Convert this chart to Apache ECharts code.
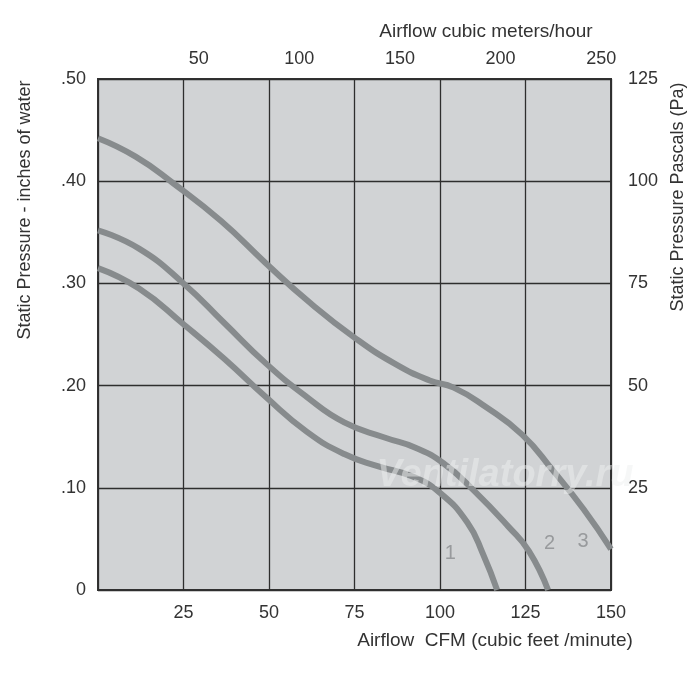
<!DOCTYPE html>
<html>
<head>
<meta charset="utf-8">
<script src="https://cdn.jsdelivr.net/npm/echarts@6/dist/echarts.min.js"></script>
<style>html,body{margin:0;padding:0;background:#fff}#c{width:700px;height:673px}</style>
</head>
<body>
<div id="c"></div>
<script>
// Axis ticks
const cfmTicks = [0, 25, 50, 75, 100, 125, 150];
const m3hTicks = [50, 100, 150, 200, 250];
const inchTicks = [0, 0.1, 0.2, 0.3, 0.4, 0.5];
const paTicks = [25, 50, 75, 100, 125];

// Fan curves: [CFM, inches of water]
const curve1 = [[0,.315],[12,.295],[25,.260],[37,.226],[49,.189],[61,.155],[72,.133],[82,.121],[92,.111],[100,.095],[108,.066],[112.6,.035],[116.7,0]];
const curve2 = [[0,.352],[12,.334],[25,.300],[37,.261],[49,.222],[61,.189],[72,.164],[84,.149],[93,.139],[101,.124],[110,.097],[120,.062],[126,.038],[131.6,0]];
const curve3 = [[0,.442],[11,.424],[22,.398],[36,.361],[49,.320],[62,.281],[75,.247],[87,.221],[97,.205],[104,.198],[113,.180],[124,.152],[133,.117],[142,.079],[150,.040]];
const curveLabels = [["1",103,.036],["2",132,.046],["3",141.8,.047]];

const CFM_TO_M3H = 1.699;
const font = 'Liberation Sans, Arial, Helvetica, sans-serif';
const txt = '#333';
const fs = 18;

const chart = echarts.init(document.getElementById('c'));
const lineStyle = {color:'#878b8d', width:6};
chart.setOption({
  animation:false,
  backgroundColor:'#fff',
  grid:{left:98,right:89,top:79,bottom:83,show:true,backgroundColor:'#d1d3d5',borderColor:'#333',borderWidth:2},
  xAxis:[
    {type:'value',position:'bottom',min:0,max:150,interval:25,
     axisLine:{show:false},axisTick:{show:false},
     splitLine:{show:true,lineStyle:{color:'#2e2e2e',width:1.3}},
     axisLabel:{margin:14,fontSize:fs,color:txt,fontFamily:font,
       formatter:v=>(v!==0&&cfmTicks.includes(v))?String(v):''}},
    {type:'value',position:'top',min:0,max:150*CFM_TO_M3H,interval:50,
     axisLine:{show:false},axisTick:{show:false},splitLine:{show:false},
     axisLabel:{margin:11,fontSize:fs,color:txt,fontFamily:font,showMaxLabel:false,
       formatter:v=>m3hTicks.includes(v)?String(v):''}}
  ],
  yAxis:[
    {type:'value',position:'left',min:0,max:0.5,interval:0.1,
     axisLine:{show:false},axisTick:{show:false},
     splitLine:{show:true,lineStyle:{color:'#2e2e2e',width:1.3}},
     axisLabel:{margin:12,fontSize:fs,color:txt,fontFamily:font,
       formatter:v=>{const t=inchTicks.find(x=>Math.abs(x-v)<1e-9);return t===0?'0':'.'+(t*100).toFixed(0).padStart(2,'0');}}},
    {type:'value',position:'right',min:0,max:125,interval:25,
     axisLine:{show:false},axisTick:{show:false},splitLine:{show:false},
     axisLabel:{margin:17,fontSize:fs,color:txt,fontFamily:font,
       formatter:v=>paTicks.includes(v)?String(v):''}}
  ],
  series:[
    {type:'line',data:curve1,smooth:0.5,symbol:'none',lineStyle,z:3},
    {type:'line',data:curve2,smooth:0.5,symbol:'none',lineStyle,z:3},
    {type:'line',data:curve3,smooth:0.5,symbol:'none',lineStyle,z:3},
    {type:'scatter',symbolSize:0,z:4,
     data:curveLabels.map(d=>({name:d[0],value:[d[1],d[2]]})),
     label:{show:true,position:'inside',formatter:p=>p.name,fontSize:20,color:'#8a8c8e',fontFamily:font}}
  ],
  graphic:[
    {type:'text',x:486,y:32,z:10,style:{text:'Airflow cubic meters/hour',fontSize:19,fill:txt,fontFamily:font,align:'center',verticalAlign:'middle'}},
    {type:'text',x:495,y:641,z:10,style:{text:'Airflow  CFM (cubic feet /minute)',fontSize:19,fill:txt,fontFamily:font,align:'center',verticalAlign:'middle'}},
    {type:'text',x:25,y:210,rotation:Math.PI/2,z:10,style:{text:'Static Pressure - inches of water',fontSize:18,fill:txt,fontFamily:font,align:'center',verticalAlign:'middle'}},
    {type:'text',x:678,y:197,rotation:Math.PI/2,z:10,style:{text:'Static Pressure Pascals (Pa)',fontSize:18,fill:txt,fontFamily:font,align:'center',verticalAlign:'middle'}},
    {type:'text',x:505,y:476,z:5,style:{text:'Ventilatorry.ru',fontSize:38,fontWeight:'bold',fontStyle:'italic',fill:'rgba(238,239,240,0.5)',fontFamily:font,align:'center',verticalAlign:'middle'}}
  ]
});
</script>
</body>
</html>
